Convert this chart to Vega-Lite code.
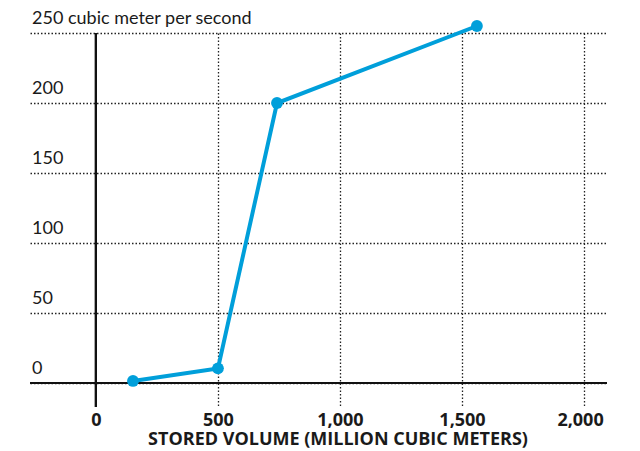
{
  "$schema": "https://vega.github.io/schema/vega-lite/v6.json",
  "autosize": {"type": "none"},
  "width": 577,
  "height": 374,
  "padding": {"left": 30, "top": 33, "right": 33, "bottom": 44},
  "background": "white",
  "config": {
    "view": {"stroke": null},
    "font": "Open Sans",
    "axis": {"labelColor": "#1a1a1a", "titleColor": "#1a1a1a"}
  },
  "data": {
    "values": [
      {"volume": 152, "flow": 1.5},
      {"volume": 500, "flow": 10.5},
      {"volume": 742, "flow": 200},
      {"volume": 1561, "flow": 255}
    ]
  },
  "layer": [
    {
      "mark": {"type": "rule", "stroke": "#111", "strokeWidth": 2},
      "encoding": {"y": {"datum": 0, "type": "quantitative", "scale": {"domain": [-17.1, 250]}}}
    },
    {
      "mark": {"type": "rule", "stroke": "#111", "strokeWidth": 2},
      "encoding": {"x": {"datum": 0, "type": "quantitative", "scale": {"domain": [-270, 2094]}}}
    },
    {
      "mark": {"type": "line", "color": "#009fda", "strokeWidth": 4},
      "encoding": {
        "x": {
          "field": "volume", "type": "quantitative",
          "scale": {"domain": [-270, 2094], "nice": false, "zero": false},
          "axis": {
            "values": [0, 500, 1000, 1500, 2000],
            "format": ",d",
            "title": "STORED VOLUME (MILLION CUBIC METERS)",
            "titleFontSize": 18, "titleFontWeight": "bold", "titleX": 307.5, "titleY": 23.6,
            "titleBaseline": "top",
            "labelFontSize": 18, "labelFontWeight": "bold", "labelPadding": 4.5,
            "labelOffset": {"condition": {"test": "datum.value == 2000", "value": -4}, "value": 0},
            "ticks": false, "tickSize": 0, "domain": false,
            "grid": true, "gridColor": {"condition": {"test": "datum.value == 0", "value": "transparent"}, "value": "#222"},
            "gridDash": [1.5, 2], "gridWidth": 1.3
          }
        },
        "y": {
          "field": "flow", "type": "quantitative",
          "scale": {"domain": [-17.1, 250], "nice": false, "zero": false},
          "axis": {
            "values": [0, 50, 100, 150, 200, 250],
            "title": null,
            "labelExpr": "datum.value == 250 ? '250 cubic meter per second' : datum.label",
            "labelFont": "Lato",
            "labelFontSize": 18, "labelAlign": "left", "labelBaseline": "alphabetic",
            "labelPadding": -1.5, "labelOffset": -10, "labelLimit": 400,
            "ticks": false, "tickSize": 0, "domain": false,
            "grid": true, "gridColor": "#222", "gridDash": [1.5, 2], "gridWidth": 1.3
          }
        }
      }
    },
    {
      "mark": {"type": "point", "filled": true, "opacity": 1, "color": "#009fda", "size": 140},
      "encoding": {
        "x": {"field": "volume", "type": "quantitative"},
        "y": {"field": "flow", "type": "quantitative"}
      }
    }
  ]
}
